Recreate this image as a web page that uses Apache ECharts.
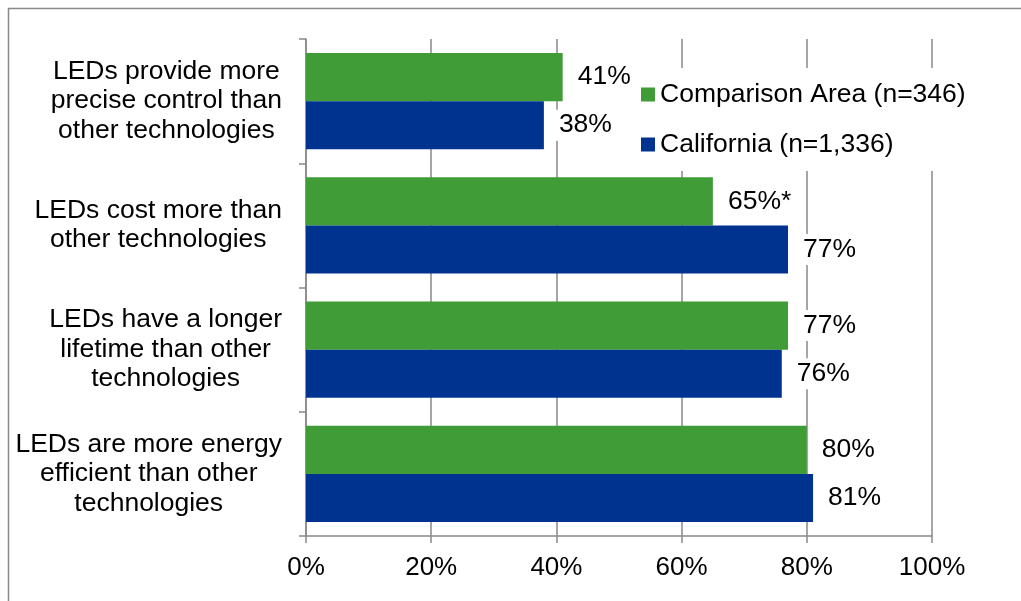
<!DOCTYPE html>
<html>
<head>
<meta charset="utf-8">
<title>LED perceptions</title>
<script src="https://cdn.jsdelivr.net/npm/echarts@6/dist/echarts.min.js"></script>
<style>
  html, body { margin: 0; padding: 0; background: #fff; }
  #chart { width: 1021px; height: 601px; }
</style>
</head>
<body>
<div id="chart"></div>
<script>
// Statements about LEDs (top to bottom)
const categories = [
  ['LEDs provide more', 'precise control than', 'other technologies'],
  ['LEDs cost more than', 'other technologies'],
  ['LEDs have a longer', 'lifetime than other', 'technologies'],
  ['LEDs are more energy', 'efficient than other', 'technologies']
];
const seriesNames = ['Comparison Area (n=346)', 'California (n=1,336)'];
const comparisonValues = [41, 65, 77, 80];
const californiaValues = [38, 77, 76, 81];
// Marker appended to a label where the difference is significant
const comparisonNotes = ['', '*', '', ''];
const xTicks = [0, 20, 40, 60, 80, 100];

const FONT = '"Liberation Sans", Arial, sans-serif';
const TEXT_SIZE = 26.5;
const GREY = '#898989';
const GREEN = '#3f9c37';
const BLUE = '#00338f';

const chart = echarts.init(document.getElementById('chart'), null, { renderer: 'canvas' });

function valueLabel(notes) {
  return {
    show: true,
    position: 'right',
    distance: 11,
    padding: [3, 4, 1, 4],
    backgroundColor: '#fff',
    color: '#000',
    fontFamily: FONT,
    fontSize: TEXT_SIZE,
    formatter: p => p.value + '%' + (notes ? notes[p.dataIndex] : '')
  };
}

chart.setOption({
  backgroundColor: '#fff',
  animation: false,
  graphic: [{
    type: 'rect',
    z: -10,
    silent: true,
    shape: { x: 8.5, y: 8.5, width: 1200, height: 800 },
    style: { fill: 'none', stroke: GREY, lineWidth: 1.5 }
  }],
  grid: { left: 306, right: 89, top: 39, bottom: 65, containLabel: false },
  legend: {
    orient: 'vertical',
    left: 631,
    top: 68,
    padding: [13, 10, 13, 10],
    backgroundColor: '#fff',
    itemGap: 23,
    itemWidth: 14,
    itemHeight: 14,
    icon: 'rect',
    data: seriesNames,
    textStyle: { fontFamily: FONT, fontSize: TEXT_SIZE, color: '#000' }
  },
  xAxis: {
    type: 'value',
    min: xTicks[0],
    max: xTicks[xTicks.length - 1],
    interval: xTicks[1] - xTicks[0],
    axisLine: { show: true, lineStyle: { color: GREY, width: 1.5 } },
    axisTick: { show: true, length: 7, lineStyle: { color: GREY, width: 1.5 } },
    splitLine: { show: true, lineStyle: { color: GREY, width: 1.5 } },
    axisLabel: {
      margin: 19,
      color: '#000',
      fontFamily: FONT,
      fontSize: 26,
      formatter: v => v + '%'
    }
  },
  yAxis: {
    type: 'category',
    inverse: true,
    data: categories.map(lines => lines.join('\n')),
    axisLine: { show: true, lineStyle: { color: GREY, width: 1.5 } },
    axisTick: { show: true, length: 7, lineStyle: { color: GREY, width: 1.5 } },
    splitLine: { show: false },
    axisLabel: {
      margin: 24,
      align: 'right',
      color: '#000',
      fontFamily: FONT,
      fontSize: TEXT_SIZE,
      lineHeight: 29.5,
      formatter: v => v.split('\n').map(s => '{c|' + s + '}').join('\n'),
      rich: {
        c: { align: 'center', fontFamily: FONT, fontSize: TEXT_SIZE, lineHeight: 29.5, color: '#000' }
      }
    }
  },
  series: [
    {
      name: seriesNames[0],
      type: 'bar',
      data: comparisonValues,
      itemStyle: { color: GREEN },
      barGap: '0%',
      barCategoryGap: '22.6%',
      label: valueLabel(comparisonNotes)
    },
    {
      name: seriesNames[1],
      type: 'bar',
      data: californiaValues,
      itemStyle: { color: BLUE },
      barGap: '0%',
      barCategoryGap: '22.6%',
      label: valueLabel(null)
    }
  ]
});
</script>
</body>
</html>
